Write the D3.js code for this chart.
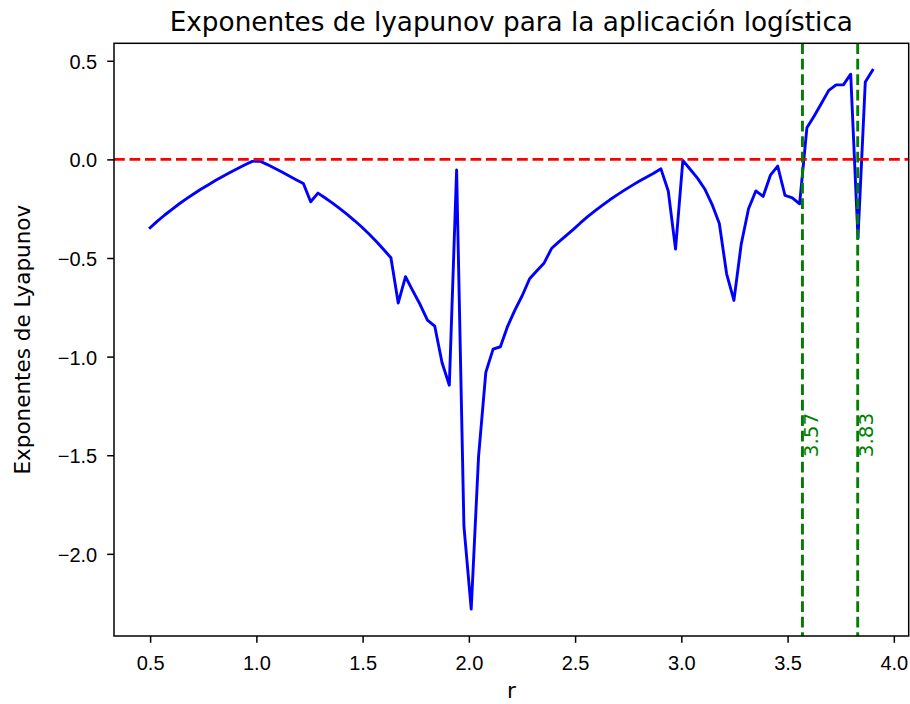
<!DOCTYPE html>
<html>
<head>
<meta charset="utf-8">
<script src="https://cdn.jsdelivr.net/npm/d3@7"></script>
<style>
  html, body { margin: 0; padding: 0; background: #fff; }
  svg { display: block; font-family: "DejaVu Sans", sans-serif; }
  .tick text { font-size: 20px; fill: #000; }
</style>
</head>
<body>
<svg id="chart" width="910" height="704"></svg>
<script>
// Sampled parameter values r (100 evenly spaced samples from 0.5 to 3.9)
const rValues = [
  0.5000, 0.5343, 0.5687, 0.6030, 0.6374, 0.6717, 0.7061, 0.7404, 0.7747, 0.8091,
  0.8434, 0.8778, 0.9121, 0.9465, 0.9808, 1.0152, 1.0495, 1.0838, 1.1182, 1.1525,
  1.1869, 1.2212, 1.2556, 1.2899, 1.3242, 1.3586, 1.3929, 1.4273, 1.4616, 1.4960,
  1.5303, 1.5646, 1.5990, 1.6333, 1.6677, 1.7020, 1.7364, 1.7707, 1.8051, 1.8394,
  1.8737, 1.9081, 1.9424, 1.9768, 2.0111, 2.0455, 2.0798, 2.1141, 2.1485, 2.1828,
  2.2172, 2.2515, 2.2859, 2.3202, 2.3545, 2.3889, 2.4232, 2.4576, 2.4919, 2.5263,
  2.5606, 2.5949, 2.6293, 2.6636, 2.6980, 2.7323, 2.7667, 2.8010, 2.8354, 2.8697,
  2.9040, 2.9384, 2.9727, 3.0071, 3.0414, 3.0758, 3.1101, 3.1444, 3.1788, 3.2131,
  3.2475, 3.2818, 3.3162, 3.3505, 3.3848, 3.4192, 3.4535, 3.4879, 3.5222, 3.5566,
  3.5909, 3.6253, 3.6596, 3.6939, 3.7283, 3.7626, 3.7970, 3.8313, 3.8657, 3.9000
];

// Lyapunov exponent estimated at each r
const lyapunovValues = [
  -0.347, -0.313, -0.282, -0.253, -0.225, -0.199, -0.174, -0.150, -0.128, -0.106,
  -0.085, -0.065, -0.046, -0.027, -0.010, -0.008, -0.025, -0.044, -0.063, -0.083,
  -0.103, -0.122, -0.215, -0.171, -0.196, -0.222, -0.250, -0.279, -0.310, -0.343,
  -0.378, -0.416, -0.457, -0.499, -0.728, -0.595, -0.667, -0.736, -0.815, -0.845,
  -1.030, -1.145, -0.054, -1.860, -2.280, -1.510, -1.080, -0.962, -0.950, -0.845,
  -0.763, -0.690, -0.605, -0.565, -0.525, -0.452, -0.418, -0.387, -0.355, -0.321,
  -0.289, -0.260, -0.232, -0.205, -0.180, -0.156, -0.133, -0.111, -0.090, -0.070,
  -0.048, -0.160, -0.455, -0.005, -0.050, -0.095, -0.150, -0.228, -0.325, -0.580,
  -0.715, -0.430, -0.250, -0.160, -0.188, -0.080, -0.034, -0.183, -0.195, -0.225,
   0.160,  0.220,  0.285,  0.350,  0.378,  0.378,  0.432, -0.400,  0.392,  0.452
];

// Marked parameter values (onset of chaos, period-3 window)
const markerValues = [3.57, 3.83];
const markerLabels = ["3.57", "3.83"];

const xTickValues = [0.5, 1.0, 1.5, 2.0, 2.5, 3.0, 3.5, 4.0];
const yTickValues = [-2.0, -1.5, -1.0, -0.5, 0.0, 0.5];

const titleText = "Exponentes de lyapunov para la aplicación logística";
const xLabelText = "r";
const yLabelText = "Exponentes de Lyapunov";

// Plot area
const plotLeft = 114, plotRight = 908.7, plotTop = 43.3, plotBottom = 636;
const lw = 2.9;          // data line width
const dash = "10.8,4.7"; // dashed pattern

const svg = d3.select("#chart");

// Axis limits padded by 5% of the data range on each side
function padded(ext) {
  const span = ext[1] - ext[0];
  return [ext[0] - 0.05 * span, ext[1] + 0.05 * span];
}
const x = d3.scaleLinear().domain(padded(d3.extent(rValues))).range([plotLeft, plotRight]);
const y = d3.scaleLinear().domain(padded(d3.extent(lyapunovValues))).range([plotBottom, plotTop]);

const fmt = d3.format(".1f");

// Axes
const xAxis = svg.append("g")
  .attr("transform", `translate(0,${plotBottom})`)
  .call(d3.axisBottom(x).tickValues(xTickValues).tickFormat(fmt).tickSize(6.8).tickPadding(6.5));
const yAxis = svg.append("g")
  .attr("transform", `translate(${plotLeft},0)`)
  .call(d3.axisLeft(y).tickValues(yTickValues).tickFormat(fmt).tickSize(6.8).tickPadding(10));

[xAxis, yAxis].forEach(g => {
  g.select(".domain").remove();
  g.selectAll(".tick line").attr("stroke", "#000").attr("stroke-width", 1.5);
});
xAxis.selectAll(".tick text").attr("dy", null).attr("y", 34);
yAxis.selectAll(".tick text").attr("dy", null).attr("y", 7.5);

// Clip for data marks
svg.append("clipPath").attr("id", "plotClip")
  .append("rect").attr("x", plotLeft).attr("y", plotTop)
  .attr("width", plotRight - plotLeft).attr("height", plotBottom - plotTop);

const plot = svg.append("g").attr("clip-path", "url(#plotClip)");

// Lyapunov curve
const line = d3.line()
  .x((d, i) => x(rValues[i]))
  .y(d => y(d));

plot.append("path")
  .datum(lyapunovValues)
  .attr("d", line)
  .attr("fill", "none")
  .attr("stroke", "#0000ff")
  .attr("stroke-width", lw)
  .attr("stroke-linejoin", "round")
  .attr("stroke-linecap", "square");

// Zero reference line
plot.append("line")
  .attr("x1", plotLeft).attr("x2", plotRight)
  .attr("y1", y(0)).attr("y2", y(0))
  .attr("stroke", "#ff0000")
  .attr("stroke-width", lw)
  .attr("stroke-dasharray", dash);

// Vertical markers with rotated labels
markerValues.forEach((v, i) => {
  plot.append("line")
    .attr("x1", x(v)).attr("x2", x(v))
    .attr("y1", plotTop).attr("y2", plotBottom)
    .attr("stroke", "#008000")
    .attr("stroke-width", lw)
    .attr("stroke-dasharray", dash);
  svg.append("text")
    .attr("transform", `translate(${x(v) + 15.5},${y(-1.5) + 2}) rotate(-90)`)
    .attr("text-anchor", "start")
    .attr("fill", "#008000")
    .attr("font-size", "20px")
    .text(markerLabels[i]);
});

// Frame
svg.append("rect")
  .attr("x", plotLeft).attr("y", plotTop)
  .attr("width", plotRight - plotLeft).attr("height", plotBottom - plotTop)
  .attr("fill", "none")
  .attr("stroke", "#000")
  .attr("stroke-width", 1.5);

// Title and axis labels
svg.append("text")
  .attr("x", (plotLeft + plotRight) / 2).attr("y", 30.5)
  .attr("text-anchor", "middle")
  .attr("font-size", "26.3px")
  .attr("fill", "#000")
  .text(titleText);

svg.append("text")
  .attr("x", (plotLeft + plotRight) / 2).attr("y", 698)
  .attr("text-anchor", "middle")
  .attr("font-size", "21.5px")
  .attr("fill", "#000")
  .text(xLabelText);

svg.append("text")
  .attr("transform", `translate(30,${(plotTop + plotBottom) / 2}) rotate(-90)`)
  .attr("text-anchor", "middle")
  .attr("font-size", "21.5px")
  .attr("fill", "#000")
  .text(yLabelText);
</script>
</body>
</html>
